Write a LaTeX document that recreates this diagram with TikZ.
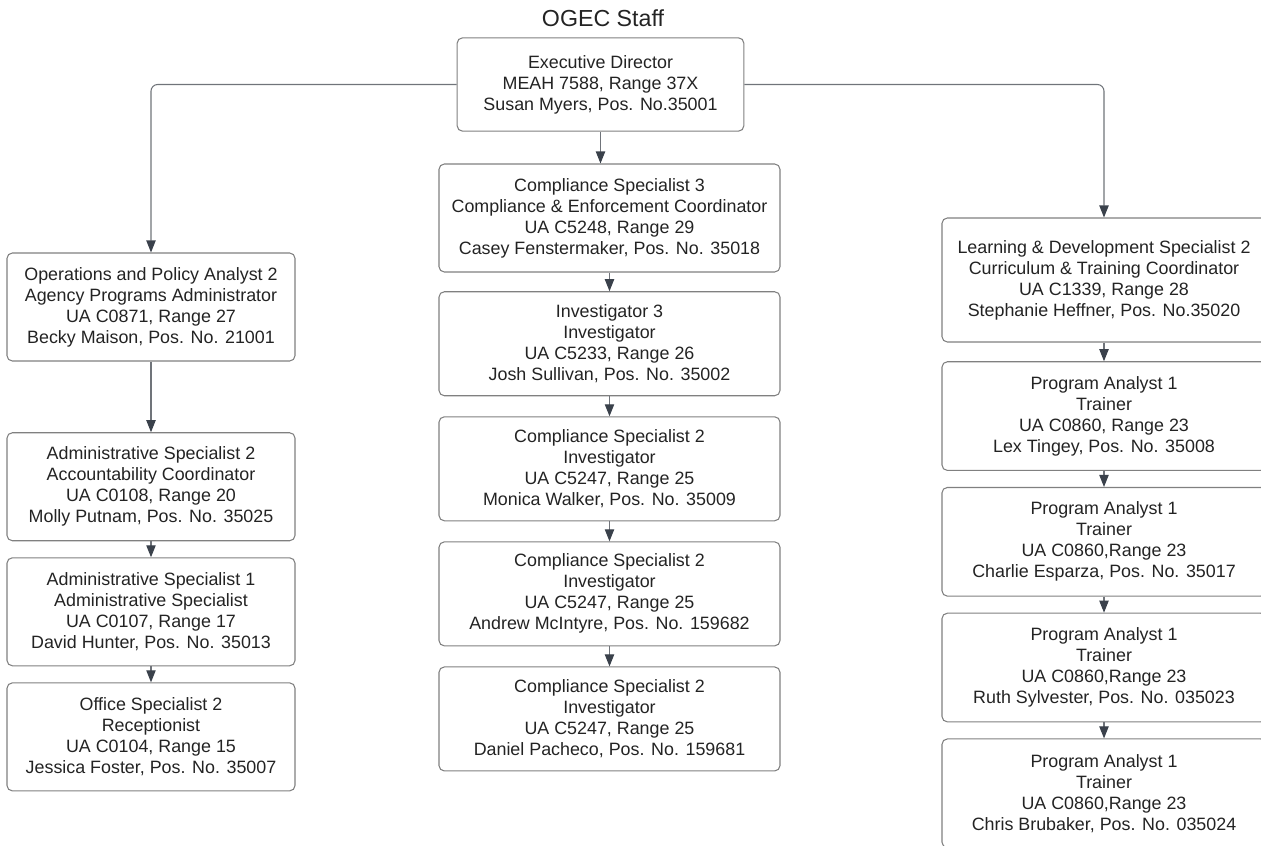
\documentclass[tikz,border=0pt]{standalone}
\usepackage{fontspec}
\setmainfont{Liberation Sans}
\usetikzlibrary{arrows.meta,positioning}
\definecolor{boxline}{RGB}{128,128,128}
\definecolor{linkline}{RGB}{112,116,122}
\definecolor{tipfill}{RGB}{58,65,75}
\definecolor{ink}{RGB}{35,35,35}

\begin{document}
\begin{tikzpicture}[
  x=0.75pt,y=-0.75pt,
  box/.style={rectangle,draw=boxline,line width=0.8pt,rounded corners=4pt,minimum height=78pt,align=center,text=ink,font=\fontsize{13.4}{15.75}\selectfont,inner sep=2pt},
  leftbox/.style={box,minimum width=216pt,minimum height=81pt},
  midbox/.style={box,minimum width=255.75pt},
  rightbox/.style={box,minimum width=243pt,minimum height=81.5pt},
  arrow/.style={draw=linkline,line width=0.8pt,-{Triangle[length=9pt,width=7pt,color=tipfill]}},
  node distance=15pt
]
\useasboundingbox (0,0) rectangle (1261,846);
\clip (0,0) rectangle (1261,846);
\node[text=ink,font=\fontsize{17.4}{20}\selectfont] (title) at (603,18) {OGEC Staff};
\node[box,minimum width=215pt,minimum height=70pt] (exec) at (600.5,84.5) {Executive Director\\MEAH 7588, Range 37X\\Susan Myers, Pos. No.35001};

\node[leftbox] (opa) at (151,307) {Operations and Policy Analyst 2\\Agency Programs Administrator\\UA C0871, Range 27\\Becky Maison, Pos. No. 21001};
\node[leftbox,below=53pt of opa] (as2) {Administrative Specialist 2\\Accountability Coordinator\\UA C0108, Range 20\\Molly Putnam, Pos. No. 35025};
\node[leftbox,below=12pt of as2] (as1) {Administrative Specialist 1\\Administrative Specialist\\UA C0107, Range 17\\David Hunter, Pos. No. 35013};
\node[leftbox,below=12pt of as1] (os2) {Office Specialist 2\\Receptionist\\UA C0104, Range 15\\Jessica Foster, Pos. No. 35007};

\node[midbox,minimum height=81pt] (cs3) at (609.5,218) {Compliance Specialist 3\\Compliance \& Enforcement Coordinator\\UA C5248, Range 29\\Casey Fenstermaker, Pos. No. 35018};
\node[midbox,below=14pt of cs3] (inv3) {Investigator 3\\Investigator\\UA C5233, Range 26\\Josh Sullivan, Pos. No. 35002};
\node[midbox,below=of inv3] (walker) {Compliance Specialist 2\\Investigator\\UA C5247, Range 25\\Monica Walker, Pos. No. 35009};
\node[midbox,below=of walker] (mcintyre) {Compliance Specialist 2\\Investigator\\UA C5247, Range 25\\Andrew McIntyre, Pos. No. 159682};
\node[midbox,below=of mcintyre] (pacheco) {Compliance Specialist 2\\Investigator\\UA C5247, Range 25\\Daniel Pacheco, Pos. No. 159681};

\node[rightbox,minimum height=93pt] (lds) at (1104,280) {Learning \& Development Specialist 2\\Curriculum \& Training Coordinator\\UA C1339, Range 28\\Stephanie Heffner, Pos. No.35020};
\node[rightbox,below=14pt of lds] (tingey) {Program Analyst 1\\Trainer\\UA C0860, Range 23\\Lex Tingey, Pos. No. 35008};
\node[rightbox,below=12pt of tingey] (esparza) {Program Analyst 1\\Trainer\\UA C0860,Range 23\\Charlie Esparza, Pos. No. 35017};
\node[rightbox,below=12pt of esparza] (sylvester) {Program Analyst 1\\Trainer\\UA C0860,Range 23\\Ruth Sylvester, Pos. No. 035023};
\node[rightbox,below=12pt of sylvester] (brubaker) {Program Analyst 1\\Trainer\\UA C0860,Range 23\\Chris Brubaker, Pos. No. 035024};

\draw[arrow,rounded corners=5pt] (exec.west) -| (opa.north);
\draw[arrow,rounded corners=5pt] (exec.east) -| (lds.north);
\draw[arrow] (exec.south) -- (exec.south |- cs3.north);
\draw[arrow] (opa) -- (as2);
\draw[arrow] (as2) -- (as1);
\draw[arrow] (as1) -- (os2);
\draw[arrow] (cs3) -- (inv3);
\draw[arrow] (inv3) -- (walker);
\draw[arrow] (walker) -- (mcintyre);
\draw[arrow] (mcintyre) -- (pacheco);
\draw[arrow] (lds) -- (tingey);
\draw[arrow] (tingey) -- (esparza);
\draw[arrow] (esparza) -- (sylvester);
\draw[arrow] (sylvester) -- (brubaker);
\end{tikzpicture}
\end{document}
